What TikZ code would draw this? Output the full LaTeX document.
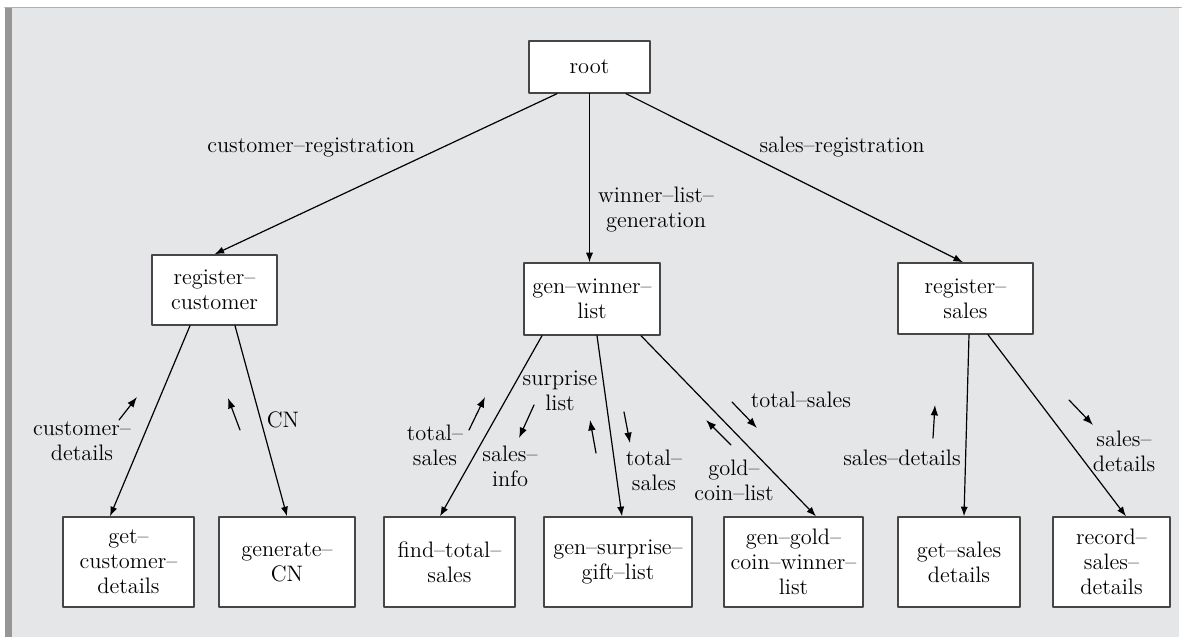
\documentclass[tikz,border=0pt]{standalone}
\usetikzlibrary{arrows.meta}

\definecolor{panelgrey}{RGB}{229,230,231}
\definecolor{edgegrey}{RGB}{150,150,150}
\definecolor{rulegrey}{RGB}{175,175,175}
\definecolor{framegrey}{RGB}{70,70,70}

\tikzset{
    module/.style={draw=framegrey,fill=white,line width=0.7pt,align=center,inner sep=2pt,
        font=\fontsize{11.2}{12.5}\selectfont},
    call/.style={-{Latex[length=4.8pt,width=3.6pt]},line width=0.6pt},
    flow/.style={-{Latex[length=5.2pt,width=3.8pt]},line width=0.6pt},
    lbl/.style={align=center,inner sep=0pt,font=\fontsize{11.2}{12.5}\selectfont}
}

\begin{document}
\begin{tikzpicture}[x=0.5pt,y=-0.5pt,line cap=round,line join=round]
        \useasboundingbox (0,0) rectangle (1189,641);
        \fill[white] (0,0) rectangle (1189,641);
        \fill[panelgrey] (12,8) rectangle (1179,637);
        \fill[edgegrey] (5,8) rectangle (12,637);
        \draw[rulegrey,line width=0.8pt] (5,7.5) -- (1181,7.5);

        % modules
        \node[module,minimum width=60.5pt,minimum height=26pt] (root) at (589.5,67) {root};

        \node[module,minimum width=62.5pt,minimum height=35pt] (regcust) at (214.5,290)
            {register--\\customer};
        \node[module,minimum width=68pt,minimum height=36pt] (genwin) at (592,299)
            {gen--winner--\\list};
        \node[module,minimum width=67.5pt,minimum height=35.5pt] (regsales) at (965.5,298.5)
            {register--\\sales};

        \node[module,minimum width=65.5pt,minimum height=45pt] (getcust) at (128.5,562)
            {get--\\customer--\\details};
        \node[module,minimum width=68pt,minimum height=45pt] (gencn) at (287,562)
            {generate--\\CN};
        \node[module,minimum width=65.5pt,minimum height=45pt] (findtot) at (449.5,562)
            {find--total--\\sales};
        \node[module,minimum width=74pt,minimum height=45pt] (gensurp) at (618,562)
            {gen--surprise--\\gift--list};
        \node[module,minimum width=69.5pt,minimum height=45pt] (gengold) at (793.5,562)
            {gen--gold--\\coin--winner--\\list};
        \node[module,minimum width=61pt,minimum height=45pt] (getsales) at (959,562)
            {get--sales\\details};
        \node[module,minimum width=58.5pt,minimum height=45pt] (recsales) at (1111.5,562)
            {record--\\sales--\\details};

        % calls
        \draw[call] ([xshift=-16.25pt]root.south) -- (regcust.north);
        \draw[call] (root.south) -- ([xshift=-1.25pt]genwin.north);
        \draw[call] ([xshift=18.25pt]root.south) -- ([xshift=-1.25pt]regsales.north);

        \draw[call] ([xshift=-12.25pt]regcust.south) -- ([xshift=-9.25pt]getcust.north);
        \draw[call] ([xshift=10.25pt]regcust.south) -- (gencn.north);

        \draw[call] ([xshift=-25pt]genwin.south) -- ([xshift=-4.75pt]findtot.north);
        \draw[call] ([xshift=2.5pt]genwin.south) -- ([xshift=2pt]gensurp.north);
        \draw[call] ([xshift=24.5pt]genwin.south) -- ([xshift=11.25pt]gengold.north);

        \draw[call] ([xshift=1.75pt]regsales.south) -- ([xshift=2.5pt]getsales.north);
        \draw[call] ([xshift=11.25pt]regsales.south) -- ([xshift=7.25pt]recsales.north);

        % call labels
        \node[lbl] (custreg) at (311,147) {customer--registration};
        \node[lbl] (winlist) at (656,210) {winner--list--\\generation};
        \node[lbl] (salesreg) at (842,147) {sales--registration};

        % data flows
        \draw[flow] (119,420) -- (137,397);
        \node[lbl] (custdet) at (82,441) {customer--\\details};

        \draw[flow] (240,430) -- (228,398);
        \node[lbl] (cn) at (283,420) {CN};

        \draw[flow] (469,430) -- (485,397);
        \node[lbl] (totsalesa) at (435,445) {total--\\sales};

        \draw[flow] (534,405) -- (519,438);
        \node[lbl] (surplist) at (560,391) {surprise\\list};
        \node[lbl] (salesinfo) at (510,466) {sales--\\info};

        \draw[flow] (596,453) -- (590,420);
        \draw[flow] (624,412) -- (630,443);
        \node[lbl] (totsalesb) at (654,470) {total--\\sales};

        \draw[flow] (731,445) -- (706,420);
        \node[lbl] (goldlist) at (734,480) {gold--\\coin--list};

        \draw[flow] (732,402) -- (757,428);
        \node[lbl] (totsalesc) at (801,400) {total--sales};

        \draw[flow] (933,438) -- (935,405);
        \node[lbl] (salesdeta) at (902,458) {sales--details};

        \draw[flow] (1069,400) -- (1093,425);
        \node[lbl] (salesdetb) at (1124,451) {sales--\\details};
    \end{tikzpicture}
\end{document}
